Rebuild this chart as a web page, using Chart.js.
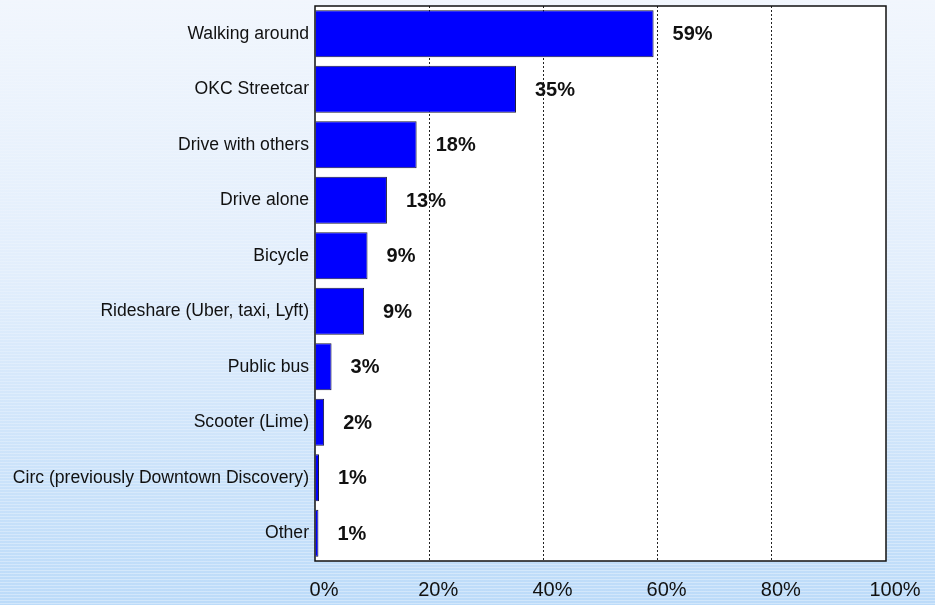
<!DOCTYPE html>
<html lang="en">
<head>
    <meta charset="UTF-8">
    <title>Transportation used downtown</title>
    <script src="https://cdn.jsdelivr.net/npm/chart.js"></script>
    <style>
        body { margin: 0; background: #eef5fd; }
        #modes-chart { display: block; }
    </style>
</head>
<body>
    <canvas id="modes-chart" width="935" height="605"></canvas>

    <script>
// survey answers, share of respondents in percent
const modes = [
    'Walking around',
    'OKC Streetcar',
    'Drive with others',
    'Drive alone',
    'Bicycle',
    'Rideshare (Uber, taxi, Lyft)',
    'Public bus',
    'Scooter (Lime)',
    'Circ (previously Downtown Discovery)',
    'Other'
];
const shares = [59.3, 35.2, 17.8, 12.6, 9.2, 8.6, 2.9, 1.6, 0.7, 0.6];
const axisTicks = [0, 20, 40, 60, 80, 100];

// striped blue backdrop plus white plot panel
const backdrop = {
    id: 'backdrop',
    beforeDraw(chart) {
        const ctx = chart.ctx;
        const w = chart.width, h = chart.height;
        const grad = ctx.createLinearGradient(0, 0, 0, h);
        grad.addColorStop(0, '#f1f6fd');
        grad.addColorStop(0.45, '#e2eefc');
        grad.addColorStop(1, '#bcdbf9');
        ctx.save();
        ctx.fillStyle = grad;
        ctx.fillRect(0, 0, w, h);
        for (let y = 0; y < h; y += 3) {
            ctx.fillStyle = 'rgba(255,255,255,' + (0.08 + 0.25 * y / h).toFixed(3) + ')';
            ctx.fillRect(0, y, w, 1);
        }
        const a = chart.chartArea;
        ctx.fillStyle = '#ffffff';
        ctx.fillRect(a.left, a.top, a.right - a.left, a.bottom - a.top);
        ctx.restore();
    },
    afterDraw(chart) {
        const ctx = chart.ctx;
        const a = chart.chartArea;
        ctx.save();
        ctx.strokeStyle = '#111111';
        ctx.lineWidth = 1.5;
        ctx.strokeRect(a.left, a.top, a.right - a.left, a.bottom - a.top);
        ctx.restore();
    }
};

// percent labels to the right of each bar
const valueLabels = {
    id: 'valueLabels',
    afterDatasetsDraw(chart) {
        const ctx = chart.ctx;
        const meta = chart.getDatasetMeta(0);
        ctx.save();
        ctx.font = 'bold 20px "Liberation Sans", Arial, sans-serif';
        ctx.fillStyle = '#111111';
        ctx.textAlign = 'left';
        ctx.textBaseline = 'middle';
        meta.data.forEach((bar, i) => {
            ctx.fillText(Math.round(shares[i]) + '%', bar.x + 19, bar.y + 1);
        });
        ctx.restore();
    }
};

const ctx = document.getElementById('modes-chart').getContext('2d');
const modesChart = new Chart(ctx, {
    type: 'bar',
    data: {
        labels: modes,
        datasets: [{
            data: shares,
            backgroundColor: '#0000ff',
            borderColor: '#1b1b3a',
            borderWidth: 1,
            barPercentage: 0.85,
            categoryPercentage: 1
        }]
    },
    options: {
        indexAxis: 'y',
        responsive: false,
        devicePixelRatio: 1,
        animation: false,
        layout: { padding: { top: 6, right: 49, left: 0, bottom: 0 } },
        plugins: {
            legend: { display: false },
            tooltip: { enabled: false }
        },
        scales: {
            x: {
                min: 0,
                max: 100,
                afterBuildTicks: (scale) => {
                    scale.ticks = axisTicks.map(v => ({ value: v }));
                },
                afterFit: (scale) => { scale.height = 44; },
                ticks: {
                    callback: (v) => v + '%',
                    color: '#111111',
                    font: { family: '"Liberation Sans", Arial, sans-serif', size: 20 },
                    padding: 17,
                    labelOffset: 9,
                    maxRotation: 0
                },
                grid: {
                    drawTicks: false,
                    lineWidth: 1,
                    color: (c) => (c.tick && (c.tick.value === 0 || c.tick.value === 100)) ? 'rgba(0,0,0,0)' : '#222222'
                },
                border: { display: false, dash: [2, 2] }
            },
            y: {
                afterFit: (scale) => {
                    scale.width = 315;
                    scale.paddingTop = 0;
                    scale.paddingBottom = 0;
                },
                ticks: {
                    autoSkip: false,
                    color: '#111111',
                    font: { family: '"Liberation Sans", Arial, sans-serif', size: 17.6 },
                    padding: 6
                },
                grid: { display: false, drawTicks: false },
                border: { display: false }
            }
        }
    },
    plugins: [backdrop, valueLabels]
});
    </script>
</body>
</html>
